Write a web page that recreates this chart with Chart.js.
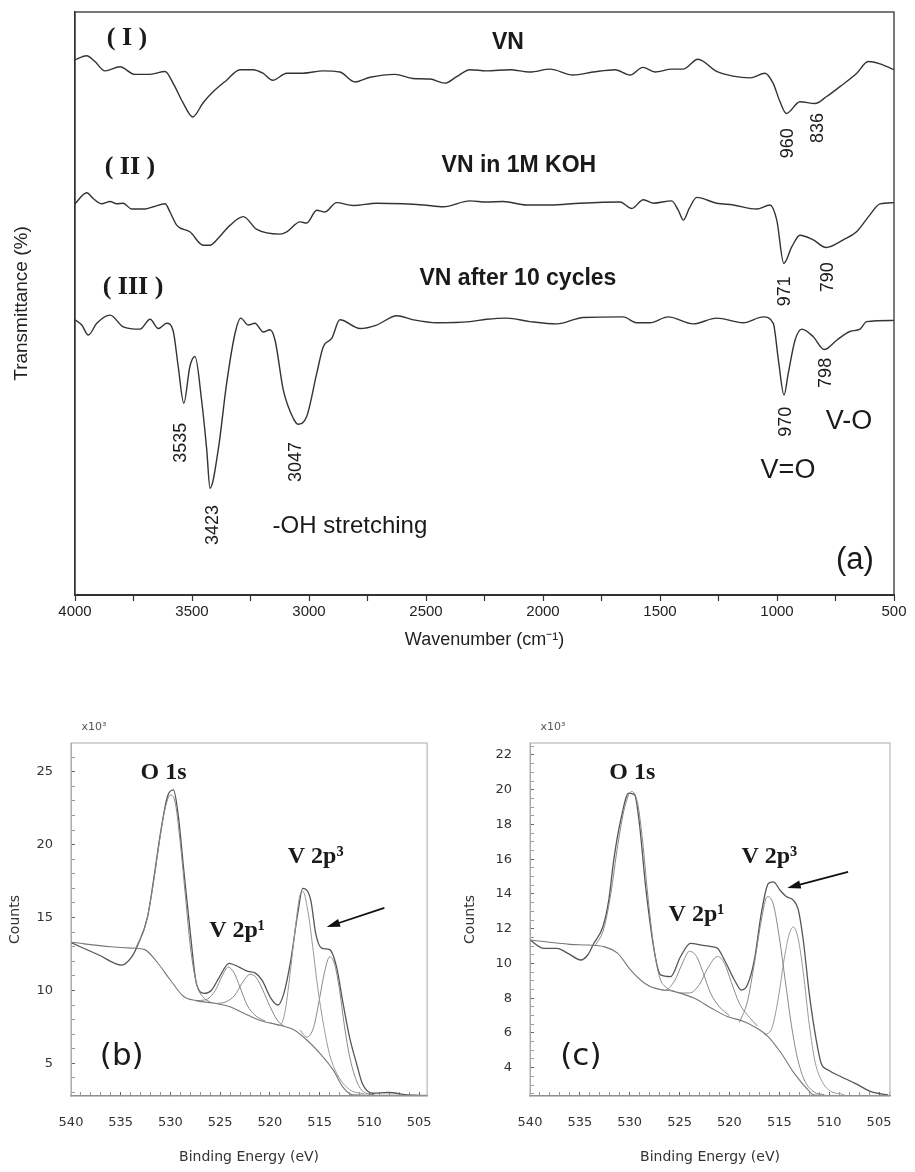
<!DOCTYPE html>
<html>
<head>
<meta charset="utf-8">
<script src="https://cdn.jsdelivr.net/npm/chart.js@4.4.1/dist/chart.umd.min.js"></script>
<style>
  body { margin: 0; background: #fff; }
  .panel { position: absolute; }
</style>
</head>
<body>
<canvas id="chartA" class="panel" width="915" height="665" style="left:0;top:0"></canvas>
<canvas id="chartB" class="panel" width="455" height="472" style="left:0;top:700px"></canvas>
<canvas id="chartC" class="panel" width="460" height="472" style="left:455px;top:700px"></canvas>
<script>
// ---- panel (a): FTIR spectra, wavenumber (cm-1) vs transmittance (a.u., stacked) ----
const vnWn = [4000,3950,3915,3872,3808,3744,3679,3615,3581,3538,3497,3453,3410,3352,3295,3239,3197,3155,3095,3026,2940,2868,2803,2739,2632,2556,2483,2419,2369,2312,2241,2141,2056,1970,1872,1786,1692,1628,1573,1521,1450,1402,1338,1258,1188,1115,1051,1017,987,960,902,838,788,731,659,610,560,500];
const vnT = [91.8,92.5,91.5,89.9,90.6,89.3,89.3,89.8,87.8,84.4,82.0,84.4,86.3,88.3,90.1,90.1,89.5,88.3,89.5,89.5,89.9,89.7,88.0,88.8,89.3,88.6,88.5,87.8,88.9,90.1,89.9,90.1,89.7,90.2,89.2,89.7,90.1,89.2,90.5,89.7,90.2,90.2,91.9,89.8,89.0,88.7,89.5,87.8,84.6,82.6,84.6,84.3,85.5,87.2,89.5,91.5,91.1,90.1];

const kohWn = [4000,3950,3922,3886,3850,3822,3794,3758,3701,3665,3615,3594,3565,3509,3452,3423,3388,3338,3281,3223,3124,3095,3038,3010,2967,2932,2882,2811,2711,2597,2511,2426,2312,2241,2170,2070,1970,1842,1671,1621,1571,1529,1450,1422,1400,1375,1343,1258,1187,1087,1030,1001,971,937,902,845,790,717,660,603,560,500];
const kohT = [67.1,69.0,68.0,67.1,67.5,67.1,67.2,66.2,66.2,66.6,67.1,65.7,63.4,62.3,60.0,60.0,61.2,63.4,64.9,62.7,61.9,62.3,64.0,63.8,66.0,65.7,67.3,66.8,67.2,67.1,66.9,66.6,67.6,67.4,67.5,66.9,66.9,67.2,67.4,66.3,67.8,67.2,67.6,66.0,64.3,66.3,68.2,67.2,66.9,66.2,66.9,64.3,56.9,59.7,61.7,60.9,59.6,60.9,62.3,65.2,67.1,67.3];

const cycWn = [4000,3971,3943,3907,3850,3794,3722,3679,3644,3608,3580,3559,3535,3509,3487,3459,3437,3423,3388,3352,3316,3292,3259,3231,3195,3167,3145,3110,3067,3047,3010,2967,2939,2903,2868,2782,2711,2625,2554,2454,2312,2241,2155,2056,1941,1828,1657,1600,1543,1465,1358,1258,1144,1059,1016,994,970,952,923,894,845,798,745,688,645,617,500];
const cycT = [47.2,46.3,44.6,46.6,48.0,46.0,45.6,47.3,45.7,46.6,45.2,39.2,32.9,39.2,40.9,33.4,24.9,18.3,24.9,36.3,44.9,47.5,46.3,46.6,45.1,45.5,43.7,35.2,30.3,29.3,30.6,38.0,42.6,44.0,47.2,45.7,46.3,47.9,47.2,46.7,46.9,47.3,47.5,46.9,46.5,47.6,47.7,46.7,46.7,47.7,46.5,47.5,46.7,47.7,46.6,40.3,34.3,38.0,43.7,45.6,44.3,42.1,43.7,45.2,45.6,46.9,47.1];

// ---- panel (b): XPS, binding energy (eV) vs counts (x10^3) ----
const bRawBE = [540,537.2,534.9,533.9,533.3,532.3,531.6,531.0,530.3,529.7,529.2,528.7,528.0,527.4,526.6,525.9,525.1,524.1,523.1,522.2,521.5,520.8,519.9,519.2,518.6,517.9,517.2,516.7,515.9,515.4,514.8,514.0,513.3,512.7,512.0,511.3,510.7,509.7,508.1,506.1,504.2];
const bRawCnt = [13.28,12.43,11.74,12.3,13.1,15.06,18.03,20.8,23.3,23.75,21.9,18.5,13.9,10.5,9.8,10.0,10.9,11.86,11.6,11.3,11.2,10.7,9.46,9.0,9.8,12.1,15.3,17.0,16.2,13.9,12.9,12.8,11.6,9.3,6.8,5.0,3.6,2.95,3.0,2.83,2.78];
const bBgBE = [540,536,533.9,532.6,531.3,530.0,528.7,527.4,525.4,524.1,522.2,520.8,518.9,517.6,516.3,515.0,513.6,512.7,511.7,508,504.2];
const bBgCnt = [13.3,13.0,12.9,12.8,11.9,10.7,9.6,9.3,9.1,8.9,8.3,7.9,7.6,7.3,6.6,5.7,4.5,3.4,2.85,2.8,2.8];
const bO1sBE = [533.5,532.5,531.8,531.2,530.6,530.0,529.5,529.0,528.5,528.0,527.4,526.8,526.0];
const bO1sCnt = [12.9,14.5,17.0,19.8,22.3,23.4,22.8,20.0,16.5,13.0,10.5,9.6,9.2];
const bP1aBE = [527.5,526.5,525.5,524.8,524.2,523.6,523.0,522.3,521.5,520.5];
const bP1aCnt = [9.3,9.35,10.0,11.0,11.6,11.2,10.2,9.0,8.3,7.9];
const bP1bBE = [525.5,524.5,523.5,522.8,522.0,521.4,520.7,520.0,519.2,518.5];
const bP1bCnt = [9.1,9.2,9.7,10.5,11.1,10.9,10.0,8.9,7.9,7.5];
const bP3aBE = [520,519,518.5,518.0,517.5,517.0,516.7,516.2,515.7,515.2,514.6,514.0,513.2,512.0,510.5];
const bP3aCnt = [7.8,7.6,8.5,11.0,14.0,16.5,16.8,15.5,13.0,10.2,7.6,5.6,4.2,3.2,2.9];
const bP3bBE = [517,516.3,515.6,515.0,514.5,514.0,513.5,513.0,512.5,512.0,511.3,510.5,509.5];
const bP3bCnt = [7.3,6.8,7.5,9.5,11.3,12.3,11.8,10.0,7.5,5.5,3.8,3.0,2.85];

// ---- panel (c) ----
const cRawBE = [540,538.6,537.3,536.2,534.9,534.2,533.6,532.7,532.1,531.6,530.9,530.1,529.5,529.0,528.4,527.5,526.9,525.9,524.9,523.9,522.8,521.8,521.2,520.5,519.5,518.8,518.2,517.5,516.8,516.1,515.6,514.9,514.3,513.6,513.1,512.6,512.0,511.3,510.8,510.1,508.8,507.4,505.8,504.1];
const cRawCnt = [11.35,10.87,10.87,10.58,10.2,10.5,11.16,12.1,13.65,15.96,18.26,19.8,19.7,17.9,14.4,10.58,9.34,9.24,10.4,11.16,11.06,10.97,10.87,10.2,9.05,8.47,8.76,10.2,12.9,14.6,14.7,14.2,13.85,13.65,13.1,11.35,8.28,5.6,4.25,3.87,3.48,3.1,2.62,2.43];
const cBgBE = [540,536,534.2,532.6,531.2,529.9,528.5,527.5,525.5,523.5,521.8,520.2,518.5,517.2,516.1,514.8,513.5,512.1,511.5,508,503.9];
const cBgCnt = [11.35,11.1,11.06,10.97,10.58,9.62,8.86,8.57,8.38,7.99,7.42,6.94,6.65,6.26,5.78,4.83,3.67,2.71,2.43,2.4,2.4];
const cO1sBE = [533.5,532.6,531.9,531.2,530.5,529.8,529.2,528.7,528.2,527.6,527.0,526.3,525.5];
const cO1sCnt = [11.0,12.0,14.0,16.8,19.0,19.9,19.2,17.0,14.0,11.0,9.2,8.6,8.4];
const cP1aBE = [527.5,526.5,525.5,524.8,524.0,523.3,522.6,521.9,521.0,520];
const cP1aCnt = [8.6,8.45,9.0,9.9,10.7,10.4,9.4,8.3,7.5,7.0];
const cP1bBE = [525,524,523.0,522.2,521.2,520.5,519.8,519.0,518.0,517.2];
const cP1bCnt = [8.3,8.3,8.8,9.7,10.4,10.0,8.9,7.7,6.9,6.4];
const cP3aBE = [519,518.2,517.5,516.8,516.2,515.6,515.0,514.4,513.8,513.2,512.5,511.5,510.5];
const cP3aCnt = [6.6,7.8,10.0,12.5,13.85,13.4,11.5,9.0,6.5,4.6,3.3,2.6,2.45];
const cP3bBE = [516.5,515.8,515.1,514.5,514.0,513.6,513.1,512.6,512.0,511.4,510.7,510,508.5];
const cP3bCnt = [5.9,6.2,8.0,10.3,11.7,12.1,11.4,9.5,6.5,4.3,3.2,2.7,2.45];

const SANS = '"Liberation Sans", Arial, sans-serif';
const SERIF = '"Liberation Serif", "Times New Roman", serif';
const VERD = '"DejaVu Sans", Verdana, sans-serif';

function pts(xs, ys) {
  const n = Math.min(xs.length, ys.length);
  const out = [];
  for (let i = 0; i < n; i++) out.push({ x: xs[i], y: ys[i] });
  return out;
}

function line(xs, ys, color, width) {
  return {
    data: pts(xs, ys),
    borderColor: color,
    borderWidth: width,
    pointRadius: 0,
    fill: false,
    cubicInterpolationMode: 'monotone'
  };
}

// text labels and arrows placed in data coordinates through the chart's scales
const notesPlugin = {
  id: 'notes',
  afterDatasetsDraw(chart, args, opts) {
    const ctx = chart.ctx;
    const xs = chart.scales.x, ys = chart.scales.y;
    (opts.items || []).forEach(n => {
      ctx.save();
      ctx.fillStyle = n.color || '#1a1a1a';
      ctx.font = n.font;
      ctx.textAlign = 'center';
      ctx.textBaseline = 'middle';
      ctx.translate(xs.getPixelForValue(n.x), ys.getPixelForValue(n.y));
      if (n.rot) ctx.rotate(n.rot * Math.PI / 180);
      ctx.fillText(n.text, 0, 0);
      ctx.restore();
    });
    (opts.arrows || []).forEach(a => {
      const x1 = xs.getPixelForValue(a.from[0]), y1 = ys.getPixelForValue(a.from[1]);
      const x2 = xs.getPixelForValue(a.to[0]), y2 = ys.getPixelForValue(a.to[1]);
      const ang = Math.atan2(y2 - y1, x2 - x1);
      ctx.save();
      ctx.strokeStyle = '#111';
      ctx.fillStyle = '#111';
      ctx.lineWidth = 1.8;
      ctx.beginPath();
      ctx.moveTo(x1, y1);
      ctx.lineTo(x2 - 8 * Math.cos(ang), y2 - 8 * Math.sin(ang));
      ctx.stroke();
      ctx.beginPath();
      ctx.moveTo(x2, y2);
      ctx.lineTo(x2 - 14 * Math.cos(ang - 0.3), y2 - 14 * Math.sin(ang - 0.3));
      ctx.lineTo(x2 - 14 * Math.cos(ang + 0.3), y2 - 14 * Math.sin(ang + 0.3));
      ctx.closePath();
      ctx.fill();
      ctx.restore();
    });
    if (opts.corner) {
      const ca = chart.chartArea;
      ctx.save();
      ctx.fillStyle = '#555';
      ctx.font = opts.corner.font;
      ctx.textAlign = 'center';
      ctx.textBaseline = 'middle';
      ctx.fillText(opts.corner.text, ca.left + opts.corner.dx, ca.top + opts.corner.dy);
      ctx.restore();
    }
  },
  afterDraw(chart, args, opts) {
    if (!opts.frame) return;
    const ca = chart.chartArea, ctx = chart.ctx;
    ctx.save();
    ctx.strokeStyle = opts.frame.color;
    ctx.lineWidth = opts.frame.width;
    ctx.strokeRect(ca.left, ca.top, ca.right - ca.left, ca.bottom - ca.top);
    ctx.restore();
  }
};

Chart.register(notesPlugin);

const aNotes = [
  { text: '( I )', x: 3778, y: 95.5, font: 'bold 26px ' + SERIF },
  { text: '( II )', x: 3765, y: 73.4, font: 'bold 26px ' + SERIF },
  { text: '( III )', x: 3752, y: 52.8, font: 'bold 26px ' + SERIF },
  { text: 'VN', x: 2150, y: 94.7, font: 'bold 23px ' + SANS },
  { text: 'VN in 1M KOH', x: 2103, y: 73.6, font: 'bold 23px ' + SANS },
  { text: 'VN after 10 cycles', x: 2107, y: 54.2, font: 'bold 23px ' + SANS },
  { text: '960', x: 953, y: 77.5, rot: -90, font: '18px ' + SANS },
  { text: '836', x: 825, y: 80.1, rot: -90, font: '18px ' + SANS },
  { text: '971', x: 966, y: 52.1, rot: -90, font: '18px ' + SANS },
  { text: '790', x: 782, y: 54.5, rot: -90, font: '18px ' + SANS },
  { text: '3535', x: 3547, y: 26.1, rot: -90, font: '18px ' + SANS },
  { text: '3423', x: 3410, y: 12.0, rot: -90, font: '18px ' + SANS },
  { text: '3047', x: 3056, y: 22.8, rot: -90, font: '18px ' + SANS },
  { text: '970', x: 961, y: 29.7, rot: -90, font: '18px ' + SANS },
  { text: '798', x: 791, y: 38.1, rot: -90, font: '18px ' + SANS },
  { text: 'V-O', x: 692, y: 29.7, font: '27px ' + SANS },
  { text: 'V=O', x: 953, y: 21.3, font: '27px ' + SANS },
  { text: '-OH stretching', x: 2825, y: 11.7, font: '24px ' + SANS },
  { text: '(a)', x: 667, y: 5.9, font: '31px ' + SANS }
];

new Chart(document.getElementById('chartA'), {
  type: 'line',
  data: {
    datasets: [
      line(vnWn, vnT, '#333', 1.4),
      line(kohWn, kohT, '#333', 1.4),
      line(cycWn, cycT, '#333', 1.4)
    ]
  },
  options: {
    responsive: false,
    animation: false,
    devicePixelRatio: 1,
    layout: { padding: { top: 12, right: 21, left: 0, bottom: 0 } },
    plugins: {
      legend: { display: false },
      tooltip: { enabled: false },
      notes: { items: aNotes, frame: { color: '#333', width: 1.3 } }
    },
    scales: {
      x: {
        type: 'linear', reverse: true, min: 500, max: 4000,
        afterFit: s => { s.height = 70; },
        border: { color: '#333', width: 2 },
        grid: { drawOnChartArea: false, tickLength: 6, tickColor: '#333', tickWidth: 1.2 },
        ticks: {
          stepSize: 250, autoSkip: false, maxRotation: 0, padding: 2,
          color: '#222', font: { family: SANS, size: 15 },
          callback: v => (v % 500 === 0 ? String(v) : '')
        },
        title: {
          display: true, text: 'Wavenumber (cm⁻¹)', color: '#222',
          font: { family: SANS, size: 18 }, padding: { top: 0, bottom: 14 }
        }
      },
      y: {
        type: 'linear', min: 0, max: 100,
        afterFit: s => { s.width = 75; },
        border: { color: '#333', width: 1.3 },
        grid: { display: false },
        ticks: { display: false },
        title: {
          display: true, text: 'Transmittance (%)', color: '#222',
          font: { family: SANS, size: 19 }, padding: { top: 10, bottom: 0 }
        }
      }
    }
  }
});

function xpsOptions(cfg) {
  return {
    responsive: false,
    animation: false,
    devicePixelRatio: 1,
    layout: { padding: { top: 43, right: cfg.padRight, left: 0, bottom: 0 } },
    plugins: {
      legend: { display: false },
      tooltip: { enabled: false },
      notes: {
        items: cfg.notes, arrows: cfg.arrows,
        corner: { text: 'x10³', dx: 23, dy: -16, font: '11px ' + VERD },
        frame: { color: '#aaa', width: 1 }
      }
    },
    scales: {
      x: {
        type: 'linear', reverse: true, min: cfg.xMin, max: 540,
        afterFit: s => { s.height = 76; },
        border: { color: '#777', width: 1.2 },
        grid: {
          drawOnChartArea: false, tickLength: -4,
          tickColor: c => (c.tick && c.tick.value % 5 === 0 ? '#666' : '#999')
        },
        ticks: {
          stepSize: 1, includeBounds: false, autoSkip: false, maxRotation: 0, padding: 23,
          color: '#333', font: { family: VERD, size: 13 },
          callback: v => (Math.abs(v % 5) < 1e-6 ? String(v) : '')
        },
        title: {
          display: true, text: 'Binding Energy (eV)', color: '#333',
          font: { family: VERD, size: 14 }, padding: { top: 0, bottom: 6 }
        }
      },
      y: {
        type: 'linear', min: cfg.yMin, max: cfg.yMax,
        afterFit: s => { s.width = cfg.yWidth; },
        border: { color: '#aaa', width: 1 },
        grid: {
          drawOnChartArea: false, tickLength: -4,
          tickColor: c => (c.tick && Math.abs(c.tick.value % cfg.yLabelStep) < 1e-6 ? '#666' : '#999')
        },
        ticks: {
          stepSize: cfg.yStep, includeBounds: false, autoSkip: false, padding: 22,
          color: '#333', font: { family: VERD, size: 13 },
          callback: v => (Math.abs(v % cfg.yLabelStep) < 1e-6 ? String(v) : '')
        },
        title: {
          display: true, text: 'Counts', color: '#333',
          font: { family: VERD, size: 14 }, padding: { top: 7, bottom: 0 }
        }
      }
    }
  };
}

const bNotes = [
  { text: 'O 1s', x: 530.7, y: 24.9, font: 'bold 24px ' + SERIF },
  { text: 'V 2p¹', x: 523.3, y: 14.1, font: 'bold 24px ' + SERIF },
  { text: 'V 2p³', x: 515.4, y: 19.15, font: 'bold 24px ' + SERIF },
  { text: '(b)', x: 534.9, y: 5.43, font: '31px ' + VERD }
];
const bArrows = [{ from: [508.5, 15.66], to: [514.3, 14.35] }];

new Chart(document.getElementById('chartB'), {
  type: 'line',
  data: {
    datasets: [
      line(bBgBE, bBgCnt, '#777', 1.1),
      line(bO1sBE, bO1sCnt, '#888', 1),
      line(bP1aBE, bP1aCnt, '#888', 1),
      line(bP1bBE, bP1bCnt, '#888', 1),
      line(bP3aBE, bP3aCnt, '#999', 1),
      line(bP3bBE, bP3bCnt, '#888', 1),
      line(bRawBE, bRawCnt, '#555', 1.3)
    ]
  },
  options: xpsOptions({
    padRight: 19, xMin: 504.2, yMin: 2.76, yMax: 26.97, yStep: 1, yLabelStep: 5, yWidth: 71,
    notes: bNotes, arrows: bArrows
  })
});

const cNotes = [
  { text: 'O 1s', x: 529.75, y: 21.0, font: 'bold 24px ' + SERIF },
  { text: 'V 2p¹', x: 523.3, y: 12.8, font: 'bold 24px ' + SERIF },
  { text: 'V 2p³', x: 516.0, y: 16.13, font: 'bold 24px ' + SERIF },
  { text: '(c)', x: 534.9, y: 4.6, font: '31px ' + VERD }
];
const cArrows = [{ from: [508.1, 15.27], to: [514.2, 14.35] }];

new Chart(document.getElementById('chartC'), {
  type: 'line',
  data: {
    datasets: [
      line(cBgBE, cBgCnt, '#777', 1.1),
      line(cO1sBE, cO1sCnt, '#888', 1),
      line(cP1aBE, cP1aCnt, '#888', 1),
      line(cP1bBE, cP1bCnt, '#888', 1),
      line(cP3aBE, cP3aCnt, '#888', 1),
      line(cP3bBE, cP3bCnt, '#999', 1),
      line(cRawBE, cRawCnt, '#555', 1.3)
    ]
  },
  options: xpsOptions({
    padRight: 25, xMin: 503.9, yMin: 2.37, yMax: 22.69, yStep: 0.5, yLabelStep: 2, yWidth: 75,
    notes: cNotes, arrows: cArrows
  })
});
</script>
</body>
</html>
